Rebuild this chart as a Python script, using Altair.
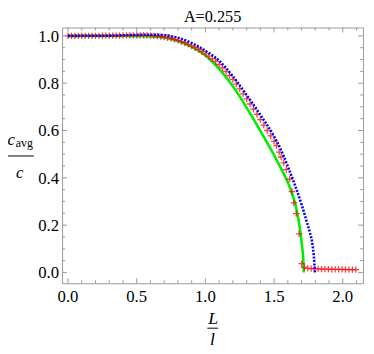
import altair as alt
import pandas as pd

# ---- data ----
green_x = [0.00, 0.40, 0.55, 0.65, 0.75, 0.85, 0.95, 1.03, 1.10, 1.15, 1.20, 1.26, 1.33, 1.40,
           1.45, 1.50, 1.55, 1.60, 1.63, 1.65, 1.666, 1.689, 1.706, 1.712, 1.716]
green_y = [1.000, 1.000, 0.999, 0.996, 0.987, 0.968, 0.938, 0.902, 0.860, 0.825, 0.787, 0.735, 0.668, 0.598,
           0.548, 0.496, 0.440, 0.380, 0.335, 0.298, 0.260, 0.180, 0.100, 0.060, 0.000]

blue_x = [0.00, 0.30, 0.50, 0.60, 0.70, 0.80, 0.90, 1.00, 1.10, 1.20, 1.30, 1.40, 1.50, 1.55,
          1.60, 1.65, 1.70, 1.74, 1.76, 1.78, 1.79, 1.797]
blue_y = [1.000, 1.001, 1.004, 1.005, 1.003, 0.992, 0.970, 0.937, 0.895, 0.829, 0.750, 0.666, 0.575, 0.518,
          0.448, 0.372, 0.287, 0.210, 0.170, 0.116, 0.065, 0.000]

red_x = [0.000, 0.025, 0.050, 0.075, 0.100, 0.125, 0.150, 0.175, 0.200, 0.225,
         0.250, 0.275, 0.300, 0.325, 0.350, 0.375, 0.400, 0.425, 0.450, 0.475,
         0.500, 0.525, 0.550, 0.575, 0.600, 0.625, 0.650, 0.675, 0.700, 0.725,
         0.750, 0.775, 0.800, 0.825, 0.850, 0.875, 0.900, 0.925, 0.950, 0.975,
         1.000, 1.025, 1.050, 1.075, 1.100, 1.125, 1.150, 1.175, 1.200, 1.225,
         1.250, 1.275, 1.300, 1.325, 1.350, 1.375, 1.400, 1.425, 1.450, 1.475,
         1.500, 1.517, 1.537, 1.551, 1.570, 1.589, 1.613, 1.630, 1.644, 1.661,
         1.682, 1.701, 1.720, 1.745, 1.770, 1.795, 1.820, 1.845, 1.870, 1.895,
         1.920, 1.945, 1.970, 1.995, 2.020, 2.045, 2.070, 2.095]
red_y = [1.000, 1.000, 1.000, 1.000, 1.000, 1.000, 1.000, 1.000, 1.000, 1.000,
         1.001, 1.001, 1.001, 1.001, 1.001, 1.001, 1.002, 1.002, 1.002, 1.002,
         1.002, 1.002, 1.002, 1.002, 1.001, 1.000, 0.999, 0.997, 0.995, 0.992,
         0.989, 0.985, 0.981, 0.976, 0.971, 0.964, 0.957, 0.950, 0.942, 0.933,
         0.924, 0.914, 0.903, 0.892, 0.879, 0.865, 0.849, 0.832, 0.815, 0.796,
         0.776, 0.755, 0.734, 0.712, 0.690, 0.668, 0.646, 0.623, 0.600, 0.577,
         0.554, 0.536, 0.509, 0.488, 0.463, 0.435, 0.395, 0.342, 0.294, 0.249,
         0.163, 0.037, 0.021, 0.017, 0.016, 0.015, 0.015, 0.014, 0.014, 0.014,
         0.013, 0.013, 0.013, 0.013, 0.012, 0.012, 0.012, 0.012]

x_major = [0.0, 0.5, 1.0, 1.5, 2.0]
x_labels = ["0.0", "0.5", "1.0", "1.5", "2.0"]
x_minor = [0.1, 0.2, 0.3, 0.4, 0.6, 0.7, 0.8, 0.9, 1.1, 1.2, 1.3, 1.4, 1.6, 1.7, 1.8, 1.9, 2.1]
y_major = [0.0, 0.2, 0.4, 0.6, 0.8, 1.0]
y_labels = ["0.0", "0.2", "0.4", "0.6", "0.8", "1.0"]
y_minor = [0.05, 0.1, 0.15, 0.25, 0.3, 0.35, 0.45, 0.5, 0.55, 0.65, 0.7, 0.75, 0.85, 0.9, 0.95]

title_text = "A=0.255"

# ---- layout ----
W, H = 306, 260
FRAME = "#999999"
SERIF = "Liberation Serif"

xs = alt.Scale(domain=[-0.043, 2.1475], nice=False, zero=False)
ys = alt.Scale(domain=[-0.0457, 1.0353], nice=False, zero=False)

green_df = pd.DataFrame({"x": green_x, "y": green_y})
blue_df = pd.DataFrame({"x": blue_x, "y": blue_y})
red_df = pd.DataFrame({"x": red_x, "y": red_y})

X = lambda f: alt.X(f, scale=xs, axis=None)
Y = lambda f: alt.Y(f, scale=ys, axis=None)

green = alt.Chart(green_df).mark_line(color="#00ee00", strokeWidth=2.6, interpolate="monotone").encode(
    x=X("x:Q"), y=Y("y:Q"), order="x:Q")

red = alt.Chart(red_df).mark_point(
    shape="M-1,0H1M0,-1V1", size=42, filled=False, color="#ff0000",
    strokeWidth=1.3, opacity=0.75,
).encode(x=X("x:Q"), y=Y("y:Q"))

blue = alt.Chart(blue_df).mark_line(
    color="#0000ff", strokeWidth=2.6, strokeDash=[2, 1.5], interpolate="monotone"
).encode(x=X("x:Q"), y=Y("y:Q"), order="x:Q")


def xticks(vals, length):
    d = pd.DataFrame({"v": vals})
    bot = alt.Chart(d).mark_rule(color=FRAME, strokeWidth=1).encode(
        x=X("v:Q"), y=alt.value(H), y2=alt.value(H - length))
    top = alt.Chart(d).mark_rule(color=FRAME, strokeWidth=1).encode(
        x=X("v:Q"), y=alt.value(0), y2=alt.value(length))
    return [bot, top]


def yticks(vals, length):
    d = pd.DataFrame({"v": vals})
    left = alt.Chart(d).mark_rule(color=FRAME, strokeWidth=1).encode(
        y=Y("v:Q"), x=alt.value(0), x2=alt.value(length))
    right = alt.Chart(d).mark_rule(color=FRAME, strokeWidth=1).encode(
        y=Y("v:Q"), x=alt.value(W), x2=alt.value(W - length))
    return [left, right]


ticks = xticks(x_major, 5) + xticks(x_minor, 3) + yticks(y_major, 5) + yticks(y_minor, 3)

xlab = alt.Chart(pd.DataFrame({"v": x_major, "t": x_labels})).mark_text(
    font=SERIF, fontSize=17, align="center", baseline="alphabetic", color="black"
).encode(x=X("v:Q"), y=alt.value(H + 19.5), text="t:N")

ylab = alt.Chart(pd.DataFrame({"v": y_major, "t": y_labels})).mark_text(
    font=SERIF, fontSize=17, align="right", baseline="alphabetic", color="black", dy=6
).encode(y=Y("v:Q"), x=alt.value(-3), text="t:N")


def txt(s, x, y, size, italic=False, align="center"):
    return alt.Chart(pd.DataFrame({"t": [s]})).mark_text(
        font=SERIF, fontSize=size, fontStyle="italic" if italic else "normal",
        align=align, baseline="alphabetic", color="black",
    ).encode(text="t:N", x=alt.value(x), y=alt.value(y))


def hline(x1, x2, y):
    return alt.Chart(pd.DataFrame({"a": [0]})).mark_rule(color="black", strokeWidth=1).encode(
        x=alt.value(x1), x2=alt.value(x2), y=alt.value(y))


labels = [
    txt(title_text, W / 2, -5.5, 16.5),
    txt("c", -51.8, 119, 17, italic=True),
    txt("avg", -47, 121, 12, align="left"),
    hline(-56.3, -28.7, 130.6),
    txt("c", -43, 153, 17, italic=True),
    txt("L", 153.7, 301, 18, italic=True),
    hline(147.7, 158.7, 305.7),
    txt("l", 153, 323, 18, italic=True),
]

chart = alt.layer(green, red, blue, *ticks, xlab, ylab, *labels).properties(
    width=W, height=H,
    autosize=alt.AutoSizeParams(type="none"),
    padding={"left": 55, "top": 17, "right": 3, "bottom": 64},
).configure_view(stroke=FRAME, strokeWidth=1)

chart.save("out.html", embed_options={"renderer": "svg", "actions": False})
